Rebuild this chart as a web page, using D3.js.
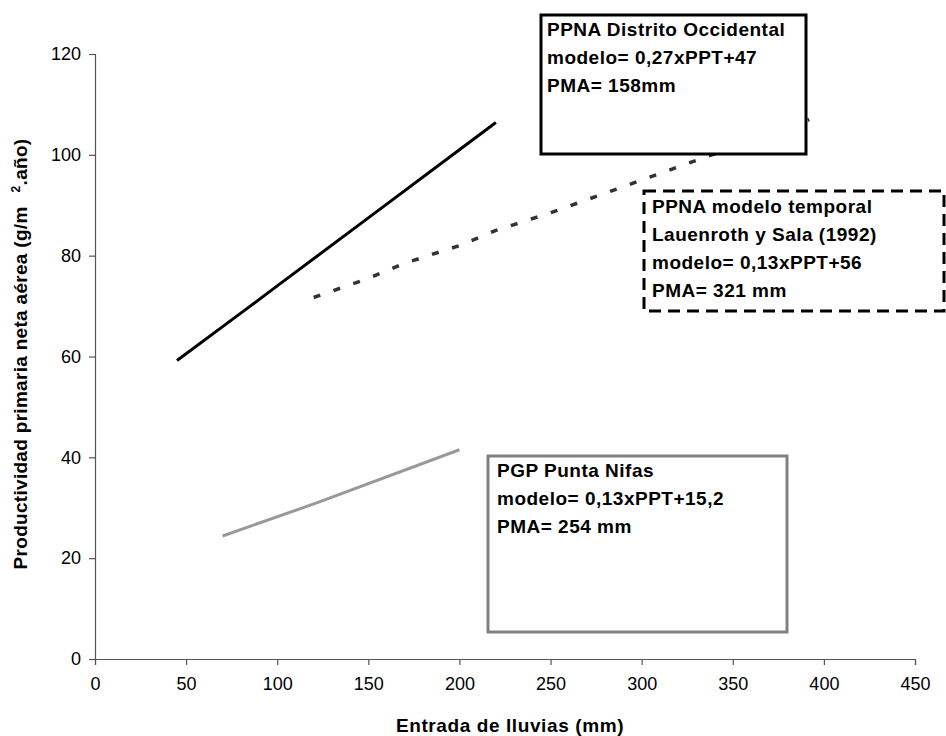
<!DOCTYPE html>
<html><head><meta charset="utf-8">
<script src="https://cdn.jsdelivr.net/npm/d3@7"></script>
<style>body{margin:0;background:#fff} svg{display:block}</style>
</head><body><svg id="c" width="946" height="736"></svg>
<script>
// ---- data ----
const xTicks = [0, 50, 100, 150, 200, 250, 300, 350, 400, 450];
const yTicks = [0, 20, 40, 60, 80, 100, 120];
const distritoX = [45, 80, 100, 150, 200, 220];
const distritoY = [59.2, 68.6, 74, 87.5, 101, 106.4];
const temporalX = [120, 150, 170, 200, 220, 250, 300, 350, 392];
const temporalY = [71.7, 75.5, 78.5, 82, 85, 88.5, 95, 101.5, 107];
const nifasX = [70, 122, 200];
const nifasY = [24.4, 31, 41.5];
const box1Lines = ["PPNA Distrito Occidental", "modelo= 0,27xPPT+47", "PMA= 158mm"];
const box2Lines = ["PPNA modelo temporal", "Lauenroth y Sala (1992)", "modelo= 0,13xPPT+56", "PMA= 321 mm"];
const box3Lines = ["PGP Punta Nifas", "modelo= 0,13xPPT+15,2", "PMA= 254 mm"];
const xTitle = "Entrada de lluvias (mm)";

const svg = d3.select("#c");
const font = "'Liberation Sans', Arial, sans-serif";
const x = d3.scaleLinear().domain([0, 450]).range([95, 915]);
const y = d3.scaleLinear().domain([0, 120]).range([659, 54]);

// axes
const xAxis = svg.append("g").attr("transform", "translate(0,659)")
  .call(d3.axisBottom(x).tickValues(xTicks).tickSize(6).tickPadding(12).tickFormat(d3.format("d")));
const yAxis = svg.append("g").attr("transform", "translate(95,0)")
  .call(d3.axisLeft(y).tickValues(yTicks).tickSize(6).tickPadding(8).tickFormat(d3.format("d")));
[xAxis, yAxis].forEach(a => {
  a.selectAll("path,line").attr("stroke", "#555").attr("stroke-width", 1.2);
  a.selectAll("text").attr("font-family", font).attr("font-size", 18).attr("fill", "#000");
});

// axis titles
svg.append("text").attr("x", 510).attr("y", 732).attr("text-anchor", "middle")
  .attr("font-family", font).attr("font-size", 19).attr("font-weight", "bold")
  .attr("letter-spacing", 0.6).text(xTitle);
const yt = svg.append("text").attr("transform", "translate(27,354) rotate(-90)")
  .attr("text-anchor", "middle").attr("font-family", font).attr("font-size", 19).attr("font-weight", "bold")
  .attr("letter-spacing", 0.3);
yt.append("tspan").text("Productividad primaria neta aérea (g/m");
yt.append("tspan").attr("dx", 14).attr("dy", -7).attr("font-size", 12).text("2");
yt.append("tspan").attr("dy", 7).text(".año)");

// lines
const line = d3.line().x(d => x(d[0])).y(d => y(d[1]));
svg.append("path").datum(d3.zip(distritoX, distritoY)).attr("d", line)
  .attr("fill", "none").attr("stroke", "#000").attr("stroke-width", 3);
svg.append("path").datum(d3.zip(temporalX, temporalY)).attr("d", line)
  .attr("fill", "none").attr("stroke", "#333").attr("stroke-width", 3.5).attr("stroke-dasharray", "7,14");
svg.append("path").datum(d3.zip(nifasX, nifasY)).attr("d", line)
  .attr("fill", "none").attr("stroke", "#999").attr("stroke-width", 3);

// annotation boxes
function box(bx, by, bw, bh, stroke, dash, lines, tx, ty) {
  svg.append("rect").attr("x", bx).attr("y", by).attr("width", bw).attr("height", bh)
    .attr("fill", "#fff").attr("stroke", stroke).attr("stroke-width", 3)
    .attr("stroke-dasharray", dash);
  const t = svg.append("text").attr("font-family", font).attr("font-size", 19)
    .attr("font-weight", "bold").attr("letter-spacing", 0.5);
  lines.forEach((l, i) => t.append("tspan").attr("x", tx).attr("y", ty + i * 28).text(l));
}
box(541, 15, 265, 139, "#000", null, box1Lines, 547, 36);
box(644, 191, 300, 120, "#000", "12,7", box2Lines, 652, 213);
box(488, 456, 299, 176, "#808080", null, box3Lines, 497, 477);
</script></body></html>
